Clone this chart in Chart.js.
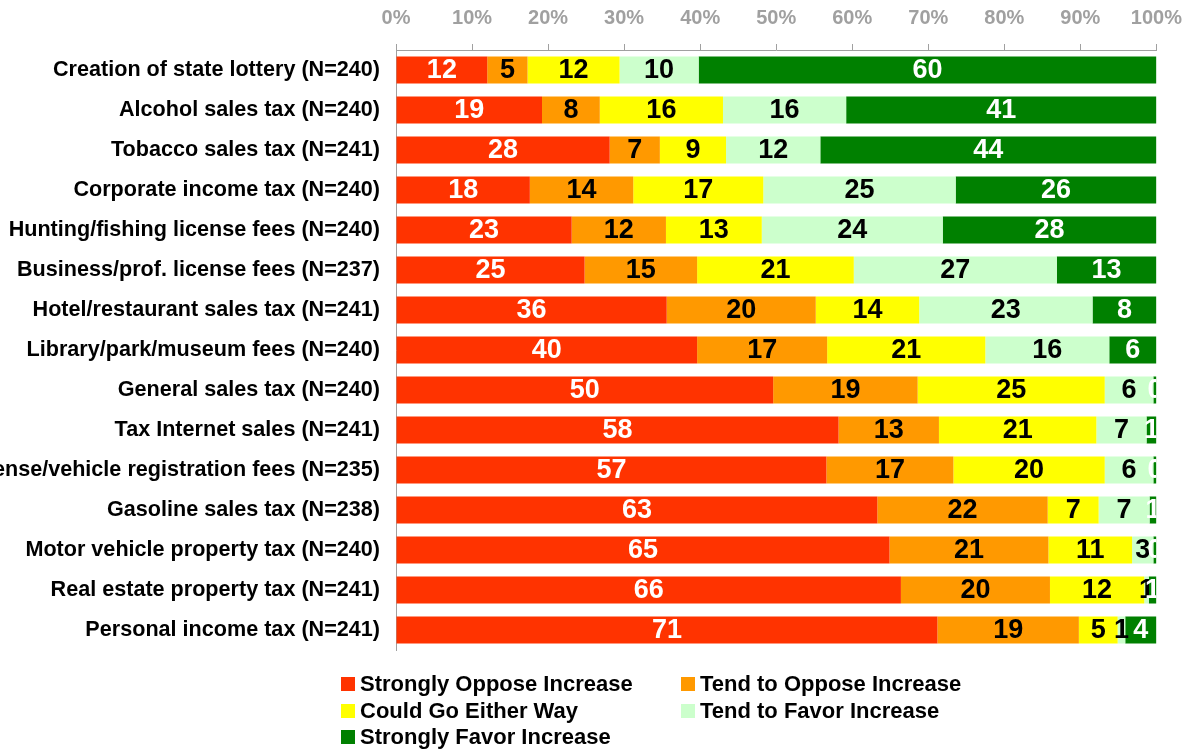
<!DOCTYPE html>
<html>
<head>
<meta charset="utf-8">
<title>Support for tax increases</title>
<script src="https://cdn.jsdelivr.net/npm/chart.js@4/dist/chart.umd.min.js"></script>
<style>
  html, body { margin: 0; padding: 0; background: #fff; }
  #wrap { position: relative; width: 1196px; height: 749px; }
  #legend {
    position: absolute; left: 341px; top: 671px;
    display: grid; grid-template-columns: 340px 300px; grid-auto-rows: 26.5px;
    font: bold 22px "Liberation Sans", Arial, sans-serif; color: #000;
  }
  .item { display: flex; align-items: center; white-space: nowrap; }
  .box { width: 14px; height: 14px; margin-right: 5px; flex: none; }
</style>
</head>
<body>
<div id="wrap">
  <canvas id="taxChart" width="1196" height="749"></canvas>
  <div id="legend"></div>
</div>
<script>
  // --- Data (percent of respondents) ---
  const categories = [
    "Creation of state lottery (N=240)",
    "Alcohol sales tax (N=240)",
    "Tobacco sales tax (N=241)",
    "Corporate income tax (N=240)",
    "Hunting/fishing license fees (N=240)",
    "Business/prof. license fees (N=237)",
    "Hotel/restaurant sales tax (N=241)",
    "Library/park/museum fees (N=240)",
    "General sales tax (N=240)",
    "Tax Internet sales (N=241)",
    "Driver license/vehicle registration fees (N=235)",
    "Gasoline sales tax (N=238)",
    "Motor vehicle property tax (N=240)",
    "Real estate property tax (N=241)",
    "Personal income tax (N=241)"
  ];
  const seriesNames = [
    "Strongly Oppose Increase",
    "Tend to Oppose Increase",
    "Could Go Either Way",
    "Tend to Favor Increase",
    "Strongly Favor Increase"
  ];
  const strongOppose = [12.0, 19.2, 28.1, 17.6, 23.1, 24.8, 35.6, 39.6, 49.6, 58.2, 56.6, 63.3, 64.9, 66.4, 71.2];
  const tendOppose   = [5.3, 7.6, 6.6, 13.6, 12.4, 14.8, 19.6, 17.1, 19.0, 13.2, 16.7, 22.4, 20.9, 19.6, 18.6];
  const eitherWay    = [12.1, 16.2, 8.7, 17.1, 12.6, 20.6, 13.6, 20.8, 24.6, 20.7, 19.9, 6.7, 11.0, 12.4, 5.1];
  const tendFavor    = [10.4, 16.2, 12.4, 25.3, 23.8, 26.7, 22.8, 16.3, 6.4, 6.6, 6.4, 6.7, 2.8, 0.6, 1.0];
  const strongFavor  = [60.2, 40.8, 44.2, 26.4, 28.1, 13.1, 8.4, 6.2, 0.4, 1.3, 0.4, 0.9, 0.4, 1.0, 4.1];

  const FONT = '"Liberation Sans", Arial, sans-serif';
  Chart.defaults.font.family = FONT;

  const fills = ["#ff3300", "#ff9900", "#ffff00", "#ccffcc", "#008000"];
  const labelInk = ["#ffffff", "#000000", "#000000", "#000000", "#ffffff"];
  const allSeries = [strongOppose, tendOppose, eitherWay, tendFavor, strongFavor];

  // Value labels in the middle of each segment, clipped to the plot
  const barLabels = {
    id: "barLabels",
    afterDatasetsDraw(chart) {
      const { ctx, chartArea } = chart;
      ctx.save();
      ctx.beginPath();
      ctx.rect(chartArea.left, chartArea.top, chartArea.right - chartArea.left, chartArea.bottom - chartArea.top);
      ctx.clip();
      ctx.font = "bold 27px " + FONT;
      ctx.textAlign = "center";
      ctx.textBaseline = "middle";
      chart.data.datasets.forEach((ds, i) => {
        ctx.fillStyle = labelInk[i];
        chart.getDatasetMeta(i).data.forEach((bar, j) => {
          const { x, y, base } = bar.getProps(["x", "y", "base"], true);
          ctx.fillText(String(Math.round(ds.data[j])), (x + base) / 2, y + 1);
        });
      });
      ctx.restore();
    }
  };

  const chart = new Chart(document.getElementById("taxChart"), {
    type: "bar",
    data: {
      labels: categories,
      datasets: allSeries.map((d, i) => ({
        label: seriesNames[i],
        data: d,
        backgroundColor: fills[i],
        borderWidth: 0,
        categoryPercentage: 1,
        barPercentage: 0.675
      }))
    },
    options: {
      indexAxis: "y",
      responsive: false,
      animation: false,
      layout: { padding: { top: 0, right: 39, bottom: 99, left: 0 } },
      plugins: { legend: { display: false }, tooltip: { enabled: false } },
      scales: {
        x: {
          position: "top",
          stacked: true,
          min: 0,
          max: 100,
          ticks: {
            stepSize: 10,
            autoSkip: false,
            maxRotation: 0,
            padding: 14,
            color: "#a0a0a0",
            font: { size: 20, weight: "bold" },
            callback: (v) => v + "%"
          },
          grid: { drawOnChartArea: false, tickLength: 6, color: "#a0a0a0" },
          border: { color: "#a0a0a0", width: 1 },
          afterFit: (s) => { s.height = 50; }
        },
        y: {
          stacked: true,
          ticks: {
            autoSkip: false,
            padding: 16,
            color: "#000",
            font: { size: 21.6, weight: "bold" }
          },
          grid: { display: false, drawTicks: false },
          border: { color: "#a0a0a0", width: 1 },
          afterFit: (s) => { s.width = 396; }
        }
      }
    },
    plugins: [barLabels]
  });

  // HTML legend in two columns
  const legend = document.getElementById("legend");
  chart.data.datasets.forEach((ds) => {
    const item = document.createElement("div");
    item.className = "item";
    const box = document.createElement("span");
    box.className = "box";
    box.style.background = ds.backgroundColor;
    const txt = document.createElement("span");
    txt.textContent = ds.label;
    item.appendChild(box);
    item.appendChild(txt);
    legend.appendChild(item);
  });
</script>
</body>
</html>
